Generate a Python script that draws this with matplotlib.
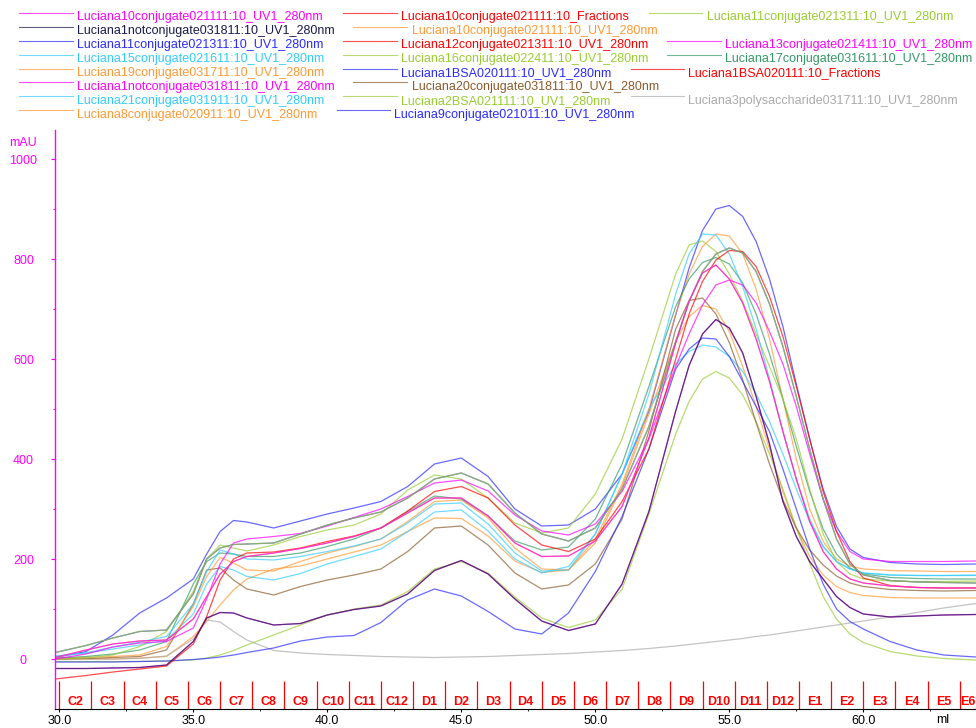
import matplotlib
matplotlib.use('Agg')
from matplotlib import pyplot as plt
from matplotlib.lines import Line2D
from matplotlib.ticker import FixedLocator

plt.rcParams['font.family'] = ['Liberation Sans', 'DejaVu Sans']

# elution volume (ml) where the UV traces are read
volume = [29.85, 31, 32, 33, 34, 35, 35.5, 36, 36.5, 37, 38, 39, 40, 41, 42, 43, 44, 45,
          46, 47, 48, 49, 50, 51, 52, 53, 53.5, 54, 54.5, 55, 55.5, 56, 56.5, 57, 57.5,
          58, 58.5, 59, 59.5, 60, 61, 62, 63, 64.2]

# UV1 280nm absorbance (mAU) for each run
l9_conj = [3, 15, 48, 92, 122, 160, 210, 255, 277, 274, 262, 276, 290, 302, 315, 345, 390, 402,
           365, 300, 266, 268, 300, 370, 495, 688, 782, 857, 900, 907, 885, 835, 760, 665, 550,
           440, 340, 265, 220, 203, 193, 190, 189, 190]
l15_conj = [6, 12, 24, 34, 45, 110, 175, 218, 210, 200, 198, 205, 215, 226, 240, 272, 310, 312,
            270, 212, 176, 178, 250, 370, 530, 730, 810, 850, 848, 810, 745, 660, 560, 455, 360,
            280, 225, 195, 180, 172, 168, 167, 167, 168]
l19_conj = [2, 3, 5, 8, 25, 105, 165, 203, 192, 178, 176, 195, 212, 225, 240, 275, 315, 318,
            282, 222, 180, 178, 240, 350, 500, 690, 770, 825, 850, 846, 810, 740, 640, 520, 400,
            300, 235, 200, 186, 180, 177, 176, 175, 175]
l16_conj = [0, 2, 8, 25, 55, 135, 200, 228, 222, 216, 228, 245, 258, 268, 290, 338, 368, 360,
            322, 272, 252, 262, 330, 440, 600, 770, 828, 836, 815, 770, 715, 650, 585, 520, 440,
            340, 250, 195, 170, 160, 156, 155, 155, 156]
l11_conj = [13, 27, 42, 55, 58, 130, 200, 222, 229, 230, 232, 250, 268, 282, 294, 322, 360, 372,
            350, 292, 250, 236, 262, 340, 465, 635, 715, 775, 810, 822, 812, 775, 710, 625, 525,
            420, 320, 240, 190, 168, 157, 154, 153, 152]
l12_conj = [-40, -33, -26, -20, -14, 30, 85, 158, 200, 212, 214, 222, 235, 246, 262, 296, 335, 345,
            322, 268, 228, 215, 240, 315, 420, 600, 690, 755, 798, 817, 815, 785, 725, 645, 545,
            440, 335, 255, 195, 162, 147, 143, 142, 142]
l17_conj = [2, 5, 10, 18, 35, 150, 195, 212, 210, 205, 205, 212, 225, 240, 262, 295, 326, 320,
            286, 236, 218, 224, 280, 390, 545, 705, 760, 793, 803, 790, 752, 690, 610, 520, 425,
            335, 260, 210, 182, 170, 163, 161, 160, 160]
l10_conj = [3, 18, 30, 36, 38, 80, 125, 170, 195, 205, 212, 221, 232, 245, 262, 292, 322, 322,
            286, 232, 205, 206, 236, 305, 442, 632, 716, 772, 788, 760, 712, 640, 555, 455, 360,
            275, 215, 180, 160, 152, 146, 143, 142, 142]
l13_conj = [0, 10, 24, 32, 35, 62, 120, 190, 232, 240, 245, 251, 266, 283, 300, 325, 352, 358,
            336, 288, 256, 248, 270, 335, 440, 585, 650, 708, 748, 758, 748, 712, 655, 590, 505,
            410, 320, 255, 215, 200, 195, 195, 195, 196]
l20_conj = [0, 1, 3, 5, 18, 110, 178, 182, 158, 140, 128, 145, 158, 168, 180, 215, 262, 266,
            228, 172, 140, 148, 190, 280, 456, 660, 717, 722, 690, 633, 558, 473, 390, 318, 262,
            218, 188, 166, 152, 145, 139, 137, 136, 137]
l8_conj = [0, 0, 0, 2, 5, 45, 75, 108, 138, 160, 180, 186, 200, 214, 228, 255, 282, 281,
           246, 196, 173, 178, 232, 345, 490, 635, 685, 707, 700, 655, 585, 505, 420, 335, 262,
           205, 168, 145, 133, 127, 123, 122, 122, 122]
l1_notconj = [-19, -19, -18, -17, -12, 35, 82, 93, 92, 82, 68, 71, 88, 99, 106, 130, 177, 197,
              170, 120, 76, 57, 70, 150, 295, 496, 587, 650, 679, 662, 612, 525, 430, 315, 245,
              195, 160, 125, 103, 90, 84, 86, 88, 89]
l1_bsa = [-6, -6, -6, -5, -4, -1, 1, 4, 8, 13, 22, 36, 44, 47, 73, 118, 140, 126,
          95, 60, 50, 92, 175, 285, 420, 580, 620, 642, 640, 605, 555, 505, 455, 380, 300,
          220, 150, 100, 75, 60, 35, 18, 8, 4]
l21_conj = [5, 12, 20, 28, 38, 90, 150, 185, 178, 165, 158, 171, 190, 205, 220, 255, 294, 298,
            256, 200, 172, 185, 250, 370, 500, 590, 615, 628, 624, 605, 575, 530, 475, 410, 340,
            275, 225, 195, 180, 172, 168, 167, 167, 167]
l2_bsa = [-5, -5, -5, -5, -4, -2, 2, 8, 17, 28, 48, 68, 88, 100, 108, 135, 180, 195,
          172, 124, 82, 63, 78, 140, 290, 450, 515, 560, 575, 562, 528, 475, 410, 340, 262,
          191, 125, 80, 50, 33, 15, 6, 1, -2]
l3_poly = [0, 0, 0, 1, 6, 40, 78, 74, 55, 38, 17, 12, 9, 7, 5, 4, 3, 4,
           5, 7, 9, 11, 14, 17, 21, 26, 29, 32, 35, 38, 41, 45, 48, 52, 56,
           60, 64, 68, 72, 76, 84, 93, 102, 111]

# fraction collector: start volume (ml) of each tube and its well name
fraction_start = [30.0, 31.2, 32.4, 33.6, 34.8, 36.0, 37.2, 38.4, 39.6, 40.8, 42.0, 43.2, 44.4,
                  45.6, 46.8, 48.0, 49.2, 50.4, 51.6, 52.8, 54.0, 55.2, 56.4, 57.6, 58.8, 60.0,
                  61.2, 62.4, 63.6]
fraction_names = ['C2', 'C3', 'C4', 'C5', 'C6', 'C7', 'C8', 'C9', 'C10', 'C11', 'C12',
                  'D1', 'D2', 'D3', 'D4', 'D5', 'D6', 'D7', 'D8', 'D9', 'D10', 'D11', 'D12',
                  'E1', 'E2', 'E3', 'E4', 'E5', 'E6']

MAGENTA = '#ff00ff'
RED = '#ff0000'
YGREEN = '#99cc33'
NAVY = '#1a1a4d'
ORANGE = '#ff9933'
BLUE = '#2a2aff'
CYAN = '#33ccff'
GREEN = '#339966'
BROWN = '#8b5a2b'
GRAY = '#aaaaaa'

# curves in the order the software lists them (Fractions rows carry no trace)
runs = [
    ('Luciana10conjugate021111:10_UV1_280nm', MAGENTA, l10_conj),
    ('Luciana10conjugate021111:10_Fractions', RED, None),
    ('Luciana11conjugate021311:10_UV1_280nm', YGREEN, l11_conj),
    ('Luciana1notconjugate031811:10_UV1_280nm', NAVY, l1_notconj),
    ('Luciana10conjugate021111:10_UV1_280nm', ORANGE, l10_conj),
    ('Luciana11conjugate021311:10_UV1_280nm', BLUE, l11_conj),
    ('Luciana12conjugate021311:10_UV1_280nm', RED, l12_conj),
    ('Luciana13conjugate021411:10_UV1_280nm', MAGENTA, l13_conj),
    ('Luciana15conjugate021611:10_UV1_280nm', CYAN, l15_conj),
    ('Luciana16conjugate022411:10_UV1_280nm', YGREEN, l16_conj),
    ('Luciana17conjugate031611:10_UV1_280nm', GREEN, l17_conj),
    ('Luciana19conjugate031711:10_UV1_280nm', ORANGE, l19_conj),
    ('Luciana1BSA020111:10_UV1_280nm', BLUE, l1_bsa),
    ('Luciana1BSA020111:10_Fractions', RED, None),
    ('Luciana1notconjugate031811:10_UV1_280nm', MAGENTA, l1_notconj),
    ('Luciana20conjugate031811:10_UV1_280nm', BROWN, l20_conj),
    ('Luciana21conjugate031911:10_UV1_280nm', CYAN, l21_conj),
    ('Luciana2BSA021111:10_UV1_280nm', YGREEN, l2_bsa),
    ('Luciana3polysaccharide031711:10_UV1_280nm', GRAY, l3_poly),
    ('Luciana8conjugate020911:10_UV1_280nm', ORANGE, l8_conj),
    ('Luciana9conjugate021011:10_UV1_280nm', BLUE, l9_conj),
]

# legend layout in pixels: (row, sample start, sample end, text x)
legend_slots = [
    (0, 19, 73, 77), (0, 343, 397, 401), (0, 649, 702, 707),
    (1, 19, 73, 77), (1, 353, 407, 412),
    (2, 19, 73, 77), (2, 343, 397, 401), (2, 667, 721, 725),
    (3, 19, 73, 77), (3, 343, 397, 401), (3, 667, 721, 725),
    (4, 19, 73, 77), (4, 343, 397, 401), (4, 631, 684, 688),
    (5, 19, 73, 77), (5, 353, 407, 412),
    (6, 19, 73, 77), (6, 343, 397, 401), (6, 631, 684, 688),
    (7, 19, 73, 77), (7, 337, 390, 394),
]

W, H = 976, 728
XMIN, XMAX = 29.84, 64.205
YMIN, YMAX = -100, 1058


def draw_traces(ax):
    '''Plot the UV traces, last listed run at the bottom.'''
    for name, color, trace in reversed(runs):
        if trace is None:
            continue
        ax.plot(volume, trace, color=color, lw=0.9, alpha=0.7)


def draw_fractions(ax):
    '''Red tick for each tube start with its well name centred in the tube.'''
    ax.vlines(fraction_start, YMIN, -44, colors=RED, lw=0.9)
    ends = fraction_start[1:] + [XMAX]
    for start, end, name in zip(fraction_start, ends, fraction_names):
        mid = (start + min(end, XMAX)) / 2
        ax.text(mid, -86, name, ha='center', va='center', color=RED,
                fontsize=9, fontweight='bold')


def draw_legend(fig):
    '''Run names stacked above the plot, each with a short line sample.'''
    for (name, color, trace), (row, x0, x1, xt) in zip(runs, legend_slots):
        base = 20 + 13.95 * row
        ly = 1 - (base - 7.3) / H
        fig.add_artist(Line2D([x0 / W, x1 / W], [ly, ly], transform=fig.transFigure,
                              color=color, lw=0.8, alpha=0.7))
        fig.text(xt / W, 1 - base / H, name, color=color, fontsize=9, va='baseline')


def setup_axes(ax):
    ax.set_xlim(XMIN, XMAX)
    ax.set_ylim(YMIN, YMAX)
    for side in ['top', 'right']:
        ax.spines[side].set_visible(False)
    ax.spines['left'].set_color(MAGENTA)
    ax.spines['left'].set_linewidth(1.0)
    ax.spines['bottom'].set_color('black')
    ax.spines['bottom'].set_linewidth(0.8)

    xt = [30, 35, 40, 45, 50, 55, 60]
    ax.set_xticks(xt)
    ax.set_xticklabels([f'{v:.1f}' for v in xt])
    ax.xaxis.set_minor_locator(FixedLocator([32.5, 37.5, 42.5, 47.5, 52.5, 57.5, 62.5]))
    ax.tick_params(axis='x', which='major', length=2.5, width=0.8, labelsize=9, pad=2)
    ax.tick_params(axis='x', which='minor', length=1.5, width=0.6)

    ax.set_yticks([0, 200, 400, 600, 800, 1000])
    ax.yaxis.set_minor_locator(FixedLocator([100, 300, 500, 700, 900]))
    ax.tick_params(axis='y', which='major', length=2.9, width=0.8, colors=MAGENTA,
                   labelsize=9, pad=19.8)
    ax.tick_params(axis='y', which='minor', length=1.8, width=0.8, colors=MAGENTA)
    for lab in ax.get_yticklabels():
        lab.set_horizontalalignment('center')


if __name__ == '__main__':
    fig = plt.figure(figsize=(W / 100, H / 100), dpi=100)
    ax = fig.add_axes([55 / W, 19 / H, (W - 55) / W, (709 - 130) / H])
    setup_axes(ax)
    draw_traces(ax)
    draw_fractions(ax)
    draw_legend(fig)

    fig.text(23.5 / W, 1 - 143 / H, 'mAU', color=MAGENTA, fontsize=9, ha='center', va='center')
    fig.text(943 / W, 1 - 720 / H, 'ml', color='black', fontsize=9, ha='center', va='center')

    fig.savefig('out.png', dpi=100)
